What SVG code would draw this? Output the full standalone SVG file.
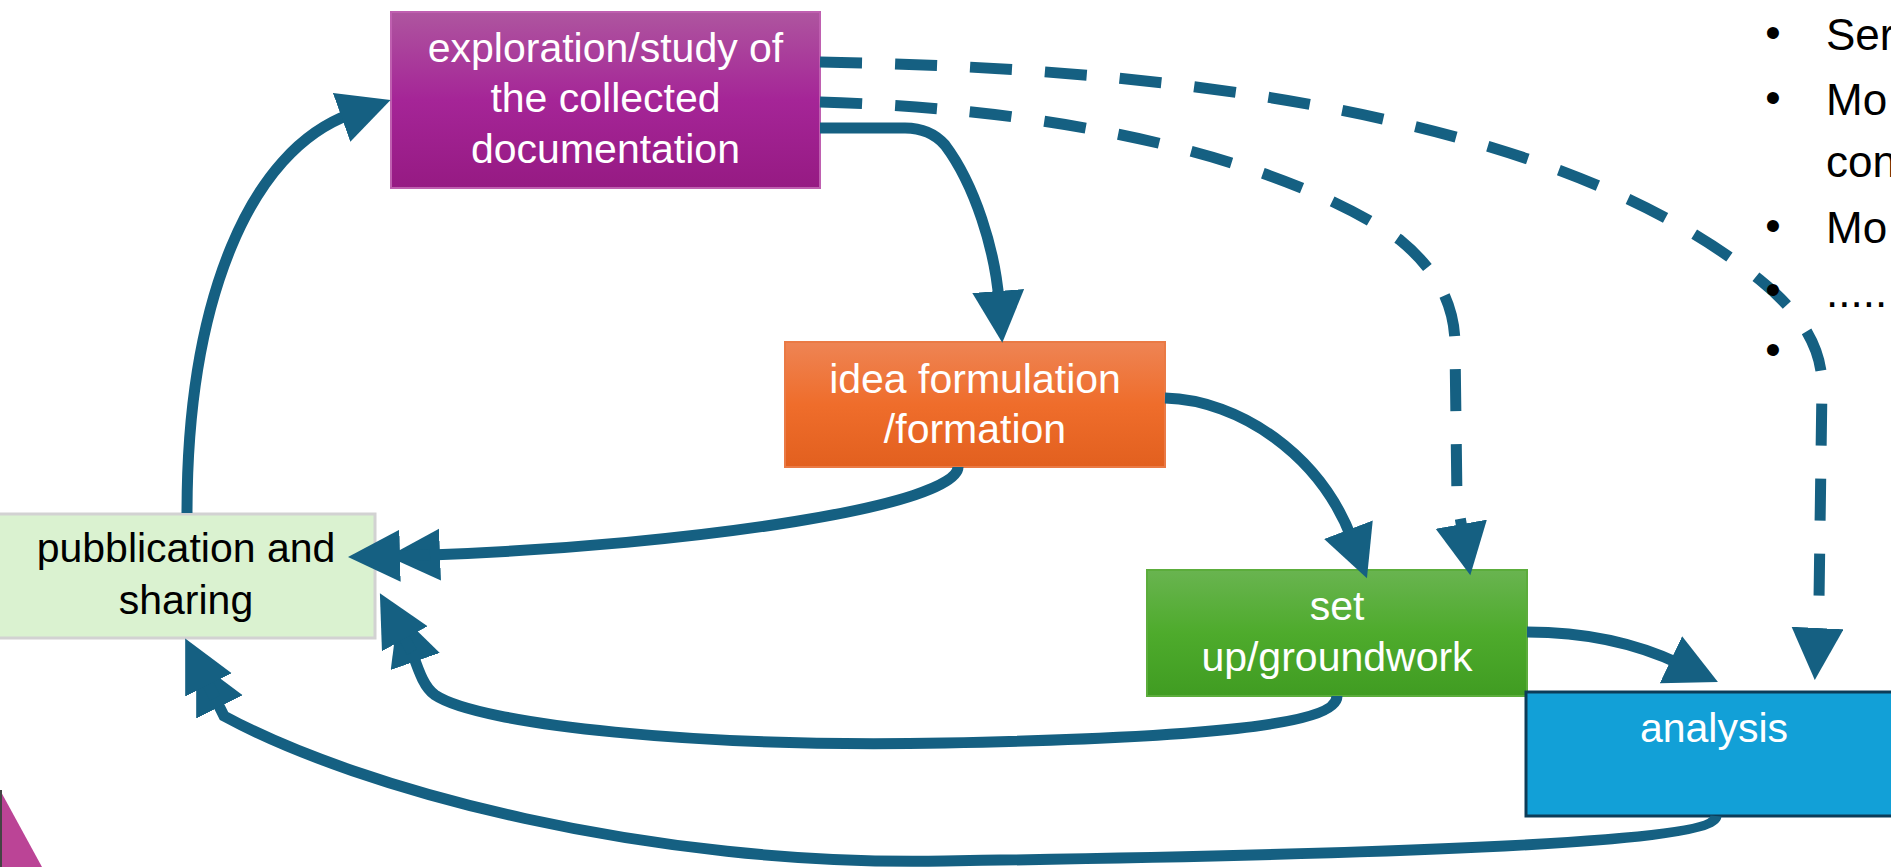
<svg xmlns="http://www.w3.org/2000/svg" width="1891" height="867" viewBox="0 0 1891 867">
<style>
.lbl{font-family:"Liberation Sans",Arial,sans-serif;font-size:41px;text-anchor:middle}
.w{fill:#ffffff}
.k{fill:#000000}
.con{fill:none;stroke:#156082;stroke-width:11}
.dash{stroke-dasharray:42 33}
.bul{font-family:"Liberation Sans",Arial,sans-serif;font-size:44px;fill:#000000}
</style>
<defs>
<linearGradient id="gPurple" x1="0" y1="0" x2="0" y2="1">
<stop offset="0" stop-color="#ae559f"/>
<stop offset="0.5" stop-color="#a52597"/>
<stop offset="1" stop-color="#961a83"/>
</linearGradient>
<linearGradient id="gOrange" x1="0" y1="0" x2="0" y2="1">
<stop offset="0" stop-color="#ee8454"/>
<stop offset="0.5" stop-color="#ef6d2b"/>
<stop offset="1" stop-color="#e2601f"/>
</linearGradient>
<linearGradient id="gGreen" x1="0" y1="0" x2="0" y2="1">
<stop offset="0" stop-color="#69b450"/>
<stop offset="0.5" stop-color="#4eab2c"/>
<stop offset="1" stop-color="#409c22"/>
</linearGradient>
<marker id="ah" markerUnits="userSpaceOnUse" viewBox="0 0 60 60" markerWidth="60" markerHeight="60" refX="10" refY="26" orient="auto">
<path d="M0,0 L52,26 L0,52 z" fill="#156082"/>
</marker>
</defs>

<g id="decor">
<polygon points="0,790 42,867 0,867" fill="#bb4496"/>
<line x1="1" y1="790" x2="1" y2="867" stroke="#444444" stroke-width="2"/>
</g>

<g id="node-exploration">
<rect x="391" y="12" width="429" height="176" fill="url(#gPurple)" stroke="#bf5fb0" stroke-width="2"/>
<text class="lbl w" x="605.5" y="62">exploration/study of</text>
<text class="lbl w" x="605.5" y="112">the collected</text>
<text class="lbl w" x="605.5" y="163">documentation</text>
</g>

<g id="node-idea">
<rect x="785" y="342" width="380" height="125" fill="url(#gOrange)" stroke="#ea7a45" stroke-width="2"/>
<text class="lbl w" x="975" y="393">idea formulation</text>
<text class="lbl w" x="975" y="443">/formation</text>
</g>

<g id="node-publication">
<rect x="-3" y="514" width="378" height="124" fill="#daf2d0" stroke="#d2d2d2" stroke-width="3"/>
<text class="lbl k" x="186" y="562">pubblication and</text>
<text class="lbl k" x="186" y="614">sharing</text>
</g>

<g id="node-setup">
<rect x="1147" y="570" width="380" height="126" fill="url(#gGreen)" stroke="#5cad3c" stroke-width="2"/>
<text class="lbl w" x="1337" y="620">set</text>
<text class="lbl w" x="1337" y="671">up/groundwork</text>
</g>

<g id="node-analysis">
<rect x="1526" y="692" width="380" height="124" fill="#12a0d7" stroke="#0c3c58" stroke-width="3"/>
<text class="lbl w" x="1714" y="742">analysis</text>
</g>

<g id="connectors">
<path class="con dash" d="M820,62 C1300,70 1600,150 1760,280 Q1822,330 1822,385 L1819,600 L1817,638" marker-end="url(#ah)"/>
<path class="con dash" d="M820,102 C1100,110 1300,170 1400,240 Q1455,285 1455,345 L1457,500 L1463,534" marker-end="url(#ah)"/>
<path class="con" d="M820,128 L905,128 Q930,128 945,145 C975,185 995,250 999,301" marker-end="url(#ah)"/>
<path class="con" d="M1165,398 C1240,400 1320,455 1352,539" marker-end="url(#ah)"/>
<path class="con" d="M1527,632 C1590,632 1640,645 1680,664" marker-end="url(#ah)"/>
<path class="con" d="M958,467 C958,505 700,545 430,555" marker-end="url(#ah)"/>
<path class="con" d="M430,555 L390,556" marker-end="url(#ah)"/>
<path class="con" d="M1337,696 C1337,725 1200,738 945,743 C700,748 480,725 435,695 C425,688 420,675 412,652" marker-end="url(#ah)"/>
<path class="con" d="M412,652 L400,630" marker-end="url(#ah)"/>
<path class="con" d="M1716,816 C1714,845 1350,855 945,861 C650,867 360,790 224,716 L215,698" marker-end="url(#ah)"/>
<path class="con" d="M215,698 L204,676" marker-end="url(#ah)"/>
<path class="con" d="M187,513 C187,300 250,150 351,114" marker-end="url(#ah)"/>
</g>

<g id="bullets">
<text class="bul" x="1773" y="48" text-anchor="middle">•</text>
<text class="bul" x="1826" y="50">Ser</text>
<text class="bul" x="1773" y="113" text-anchor="middle">•</text>
<text class="bul" x="1826" y="115">Mo</text>
<text class="bul" x="1826" y="177">con</text>
<text class="bul" x="1773" y="241" text-anchor="middle">•</text>
<text class="bul" x="1826" y="243">Mo</text>
<text class="bul" x="1773" y="305" text-anchor="middle">•</text>
<text class="bul" x="1826" y="307">.....</text>
<text class="bul" x="1773" y="365" text-anchor="middle">•</text>
</g>
</svg>
